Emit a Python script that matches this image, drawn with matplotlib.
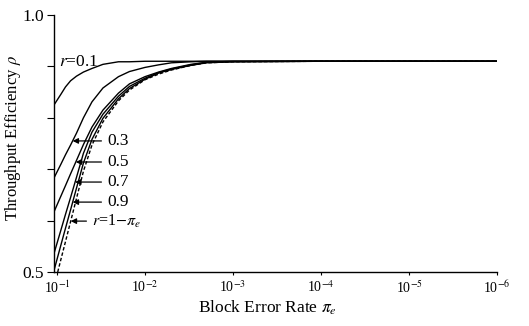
import numpy as np
import matplotlib
matplotlib.use("Agg")
import matplotlib.pyplot as plt

plt.rcParams['font.family'] = ['Liberation Serif', 'DejaVu Serif']
plt.rcParams['mathtext.fontset'] = 'stix'

# Block error rate grid (x values)
pe = [0.108, 0.09, 0.08, 0.07, 0.06, 0.05, 0.04, 0.03, 0.02, 0.015,
      0.01, 0.007, 0.005, 0.003, 0.002, 0.001, 1e-4, 1e-6]
pe_dash = [0.098] + pe[1:]

rho_r01 = [0.825, 0.846, 0.860, 0.872, 0.881, 0.889, 0.896, 0.904, 0.909, 0.909,
           0.910, 0.910, 0.910, 0.910, 0.910, 0.910, 0.910, 0.910]
rho_r03 = [0.683, 0.710, 0.728, 0.747, 0.770, 0.800, 0.831, 0.858, 0.880, 0.890,
           0.898, 0.903, 0.907, 0.909, 0.910, 0.910, 0.910, 0.910]
rho_r05 = [0.617, 0.648, 0.668, 0.691, 0.717, 0.748, 0.782, 0.815, 0.848, 0.866,
           0.880, 0.889, 0.896, 0.904, 0.908, 0.910, 0.910, 0.910]
rho_r07 = [0.536, 0.582, 0.612, 0.645, 0.684, 0.731, 0.772, 0.807, 0.842, 0.861,
           0.877, 0.888, 0.895, 0.903, 0.908, 0.909, 0.910, 0.910]
rho_r09 = [0.503, 0.553, 0.585, 0.621, 0.663, 0.712, 0.758, 0.799, 0.837, 0.857,
           0.875, 0.887, 0.894, 0.902, 0.907, 0.909, 0.910, 0.910]
rho_rlim = [0.500, 0.525, 0.559, 0.598, 0.643, 0.696, 0.747, 0.792, 0.833, 0.854,
            0.874, 0.885, 0.893, 0.902, 0.907, 0.909, 0.910, 0.910]

xticks = [1e-1, 1e-2, 1e-3, 1e-4, 1e-5, 1e-6]
xticklabels = ['10$^{-1}$', '10$^{-2}$', '10$^{-3}$', '10$^{-4}$', '10$^{-5}$', '10$^{-6}$']
yticks = [0.5, 0.6, 0.7, 0.8, 0.9, 1.0]
yticklabels = ['0.5', '', '', '', '', '1.0']

fig = plt.figure(figsize=(5.29, 3.26), dpi=100)
ax = fig.add_axes([54/529, 1-272/326, (497-54)/529, (272-15)/326])

lw = 1.0
ax.plot(pe, rho_r01, color='black', lw=lw)
ax.plot(pe, rho_r03, color='black', lw=lw)
ax.plot(pe, rho_r05, color='black', lw=lw)
ax.plot(pe, rho_r07, color='black', lw=lw)
ax.plot(pe, rho_r09, color='black', lw=lw)
ax.plot(pe_dash, rho_rlim, color='black', lw=lw, ls=(0, (2.5, 1.5)))

ax.set_xscale('log')
ax.set_xlim(0.108, 1e-6)
ax.set_ylim(0.5, 1.0)
ax.set_xticks(xticks)
ax.set_xticklabels(xticklabels, fontsize=10)
ax.xaxis.set_minor_locator(matplotlib.ticker.NullLocator())
ax.set_yticks(yticks)
ax.set_yticklabels(yticklabels, fontsize=12.5)
ax.tick_params(axis='x', direction='out', length=2.5, width=0.8, pad=3)
ax.tick_params(axis='y', direction='out', length=5, width=0.8, pad=2)

for s in ['top', 'right']:
    ax.spines[s].set_visible(False)
for s in ['left', 'bottom']:
    ax.spines[s].set_linewidth(1.0)

ax.set_xlabel('Block Error Rate $\\pi_e$', fontsize=12.5)
ax.set_ylabel('Throughput Efficiency $\\rho$', fontsize=12)
ax.xaxis.set_label_coords((267 - 54) / 443, -0.105)
ax.yaxis.set_label_coords(-0.07, (272 - 138) / 257)

# r = 0.1 label
ax.text(0.094, 0.909, '$r$=0.1', fontsize=12.5, ha='left', va='center')

# arrow labels
def tip_x(rho_curve, xs, yv):
    r = np.array(rho_curve)
    lx = np.log10(np.array(xs))
    return 10 ** np.interp(yv, r, lx)

labels = [('0.3', rho_r03, pe, 0.755, 0.027, 12.5),
          ('0.5', rho_r05, pe, 0.714, 0.027, 12.5),
          ('0.7', rho_r07, pe, 0.675, 0.027, 12.5),
          ('0.9', rho_r09, pe, 0.636, 0.027, 12.5),
          ('$r$=1$-\\pi_e$', rho_rlim, pe_dash, 0.599, 0.040, 11.5)]
for txt, curve, xs, yv, xt, fs in labels:
    xtip = tip_x(curve, xs, yv)
    ax.annotate(txt, xy=(xtip, yv), xytext=(xt, yv), fontsize=fs,
                ha='left', va='center',
                arrowprops=dict(arrowstyle='-|>', lw=0.9, color='black',
                                mutation_scale=8, shrinkA=2, shrinkB=0))

fig.savefig('out.png', dpi=100)
